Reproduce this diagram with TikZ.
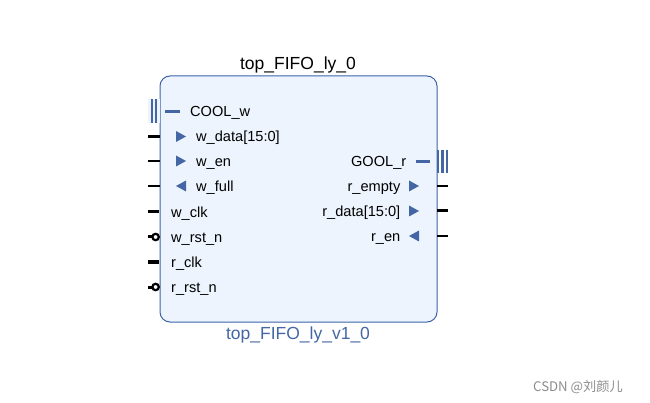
\documentclass[tikz,border=0pt]{standalone}
\usepackage{fontspec}
\setmainfont{Liberation Sans}
\newfontfamily\cjkfont{Noto Sans CJK SC}
\usetikzlibrary{positioning}
\definecolor{ipBorder}{HTML}{3D64A8}
\definecolor{ipFill}{HTML}{EDF4FD}
\definecolor{ipBlue}{HTML}{4466A5}

\begin{document}
\begin{tikzpicture}[x=1pt, y=-1pt,
    pinlabel/.style={inner sep=0pt, font=\fontsize{14.6}{16}\selectfont},
    namelabel/.style={inner sep=0pt, font=\fontsize{17.5}{20}\selectfont},
    busstub/.style={line width=3pt},
    wirestub/.style={line width=1.6pt},
    barline/.style={ipBlue, line width=2.6pt}]
    \useasboundingbox (0,0) rectangle (650,403);
    % block body
    \node[draw=ipBorder, fill=ipFill, line width=1pt, rounded corners=10pt,
      minimum width=277pt, minimum height=246pt, inner sep=0pt] (ip) at (298.5,199) {};
    \node[namelabel, anchor=base] (title) at (298,69.5) {top\_FIFO\_ly\_0};
    \node[namelabel, anchor=base, text=ipBlue] (ipname) at (298,339.5) {top\_FIFO\_ly\_v1\_0};
    % interface pins
    \fill[ipFill] (148,99) rectangle (160,123);
    \foreach \xx in {152,156}
      \draw[barline] (\xx,99) -- (\xx,123);
    \draw[ipBlue, line width=3pt] (165,111.7) -- (180,111.7);
    \node[pinlabel, anchor=base west] (coolw) at (190,117) {COOL\_w};
    \foreach \xx in {438,442.5,447}
      \draw[barline] (\xx,150) -- (\xx,173);
    \draw[ipBlue, line width=3pt] (416,162) -- (430,162);
    \node[pinlabel, anchor=base east] (goolr) at (406.5,166.5) {GOOL\_r};
    % left data pins
    \foreach \lab/\yy/\dir/\w in {w\_data[15:0]/136.5/1/3pt, w\_en/161/1/1.6pt, w\_full/186/-1/1.6pt} {
      \draw[line width=\w] (148,\yy) -- (160,\yy);
      \fill[ipBlue] (181-5*\dir,\yy-5.5) -- (181+5*\dir,\yy) -- (181-5*\dir,\yy+5.5) -- cycle;
      \node[pinlabel, anchor=base west] at (196,\yy+5.2) {\lab};
    }
    % clocks and resets
    \foreach \lab/\yy in {w\_clk/212, r\_clk/262} {
      \draw[busstub] (148,\yy) -- (159,\yy);
      \node[pinlabel, anchor=base west] at (171,\yy+5.2) {\lab};
    }
    \foreach \lab/\yy in {w\_rst\_n/237, r\_rst\_n/287} {
      \draw[busstub] (148,\yy) -- (152,\yy);
      \draw[line width=2.2pt, fill=white] (155.6,\yy) circle (3.2pt);
      \node[pinlabel, anchor=base west] at (171,\yy+5.2) {\lab};
    }
    % right data pins
    \foreach \lab/\yy/\dir/\w in {r\_empty/186/1/1.6pt, r\_data[15:0]/211/1/3pt, r\_en/236/-1/1.6pt} {
      \draw[line width=\w] (437,\yy) -- (448,\yy);
      \fill[ipBlue] (414-5*\dir,\yy-5.5) -- (414+5*\dir,\yy) -- (414-5*\dir,\yy+5.5) -- cycle;
      \node[pinlabel, anchor=base east] at (400.5,\yy+5.2) {\lab};
    }
    \node[inner sep=0pt, anchor=base west, text=black!45, font=\cjkfont\fontsize{13.2}{15}\selectfont]
      (mark) at (533,391) {CSDN @刘颜儿};
\end{tikzpicture}
\end{document}
